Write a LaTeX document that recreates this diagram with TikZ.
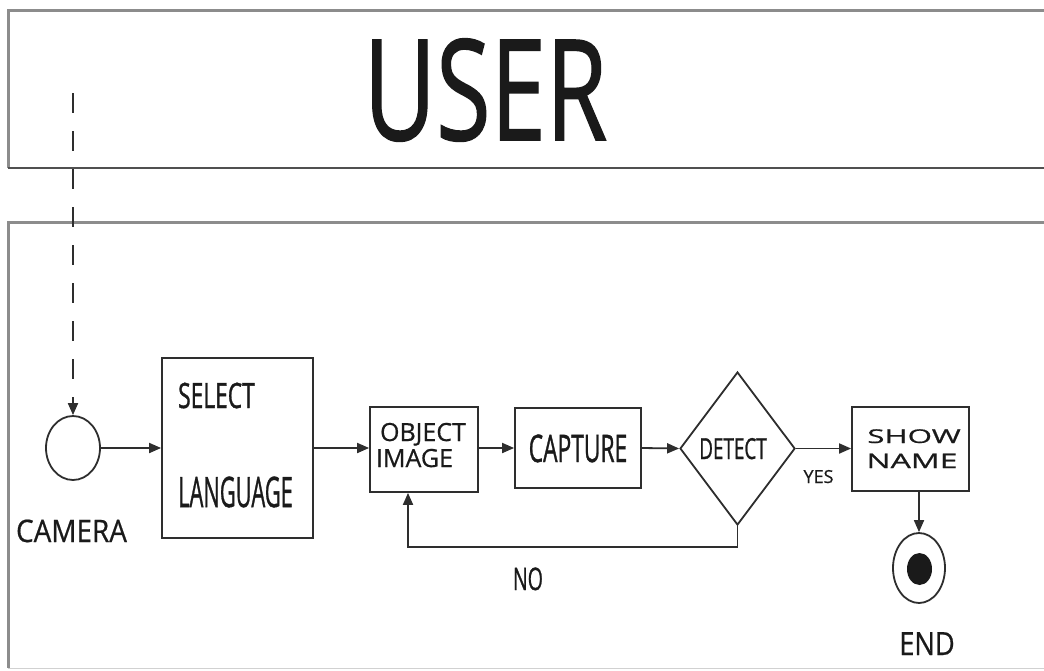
\documentclass[tikz,border=0pt]{standalone}
\usepackage{fontspec}
\setmainfont{Open Sans}
\newfontfamily\heavy[FakeBold=1.2]{Open Sans}
\newfontfamily\semi[FakeBold=0.6]{Open Sans}
\usetikzlibrary{shapes.geometric,arrows.meta}
\definecolor{ink}{HTML}{1A1A1A}
\definecolor{edge}{HTML}{2E2E2E}
\definecolor{lane}{HTML}{8C8C8C}
\definecolor{laneDark}{HTML}{505050}
\newcommand{\hsq}[2]{\scalebox{#1}[1]{#2}}
\newcommand{\fs}[1]{\fontsize{#1}{#1}\selectfont}
\tikzset{
  box/.style={draw=edge, line width=1.8pt, rectangle, inner sep=0pt},
  txt/.style={text=ink, inner sep=0pt, anchor=base},
  flow/.style={draw=edge, line width=1.8pt, ->, >={Triangle[length=12pt,width=10pt]}},
}
\begin{document}
\begin{tikzpicture}[x=1pt,y=-1pt]
\useasboundingbox (0,0) rectangle (1044,670);
\fill[white] (0,0) rectangle (1044,670);
% swimlanes
\draw[lane, line width=3pt] (1046,10) -- (8,10) -- (8,168);
\draw[laneDark, line width=2.2pt] (8,168) -- (1046,168);
\draw[lane, line width=3pt] (1046,222) -- (8,222) -- (8,668);
\draw[lane!40, line width=1pt] (8,668) -- (1046,668);
\node[txt] (user) at (485.5,140) {\fs{140}\heavy\hsq{0.71}{USER}};

% nodes
\node[draw=edge, line width=1.8pt, ellipse, minimum width=54pt, minimum height=64pt, inner sep=0pt] (cam) at (73,448) {};
\node[txt] (camlbl) at (71.5,542) {\fs{31}\semi\hsq{0.9}{CAMERA}};

\node[box, minimum width=151pt, minimum height=180pt] (sel) at (237.5,448) {};
\node[txt, anchor=base west] (sel1) at (178,408) {\fs{35}\heavy\hsq{0.65}{SELECT}};
\node[txt, anchor=base west] (sel2) at (178,507) {\fs{42}\heavy\hsq{0.52}{LANGUAGE}};

\node[box, minimum width=108pt, minimum height=85pt] (obj) at (424,449.5) {};
\node[txt] (obj1) at (423,441) {\fs{25}\semi OBJECT};
\node[txt] (obj2) at (414.5,467) {\fs{25}\semi IMAGE};

\node[box, minimum width=126pt, minimum height=80pt] (cap) at (578,448) {};
\node[txt] (caplbl) at (578,462) {\fs{38}\heavy\hsq{0.6}{CAPTURE}};

\node[draw=edge, line width=1.8pt, diamond, minimum width=115pt, minimum height=153pt, inner sep=0pt] (det) at (737.5,448.5) {};
\node[txt] (detlbl) at (733,459) {\fs{29}\heavy\hsq{0.65}{DETECT}};

\node[box, minimum width=117pt, minimum height=84pt] (show) at (910.5,449) {};
\node[txt] (show1) at (914,443) {\fs{19}\semi\hsq{1.65}{SHOW}};
\node[txt] (show2) at (912,468) {\fs{20}\semi\hsq{1.6}{NAME}};

\node[draw=edge, line width=1.8pt, ellipse, minimum width=52pt, minimum height=70pt, inner sep=0pt] (fin) at (919,568) {};
\node[fill=ink, ellipse, minimum width=25pt, minimum height=32pt, inner sep=0pt] (findot) at (919.5,569) {};
\node[txt] (finlbl) at (927,655) {\fs{32}\semi\hsq{0.85}{END}};

\node[txt] (yes) at (818.5,483) {\fs{18}\semi YES};
\node[txt] (no) at (528,590) {\fs{31}\heavy\hsq{0.63}{NO}};

% connectors
\coordinate (dstart) at (73,93);
\draw[flow, dash pattern=on 20pt off 18pt] (dstart) -- (cam.north);
\draw[flow] (cam.east) -- (cam.east -| sel.west);
\draw[flow] (sel.east) -- (sel.east -| obj.west);
\draw[flow] (obj.east |- cap.west) -- (cap.west);
\draw[flow] (cap.east) -- (det.west);
\draw[flow] (det.east) -- (det.east -| show.west);
\draw[flow] (show.south -| fin.north) -- (fin.north);
\coordinate (noL) at (408,547);
\draw[flow] (det.south) |- (noL) -- (noL |- obj.south);
\end{tikzpicture}
\end{document}
